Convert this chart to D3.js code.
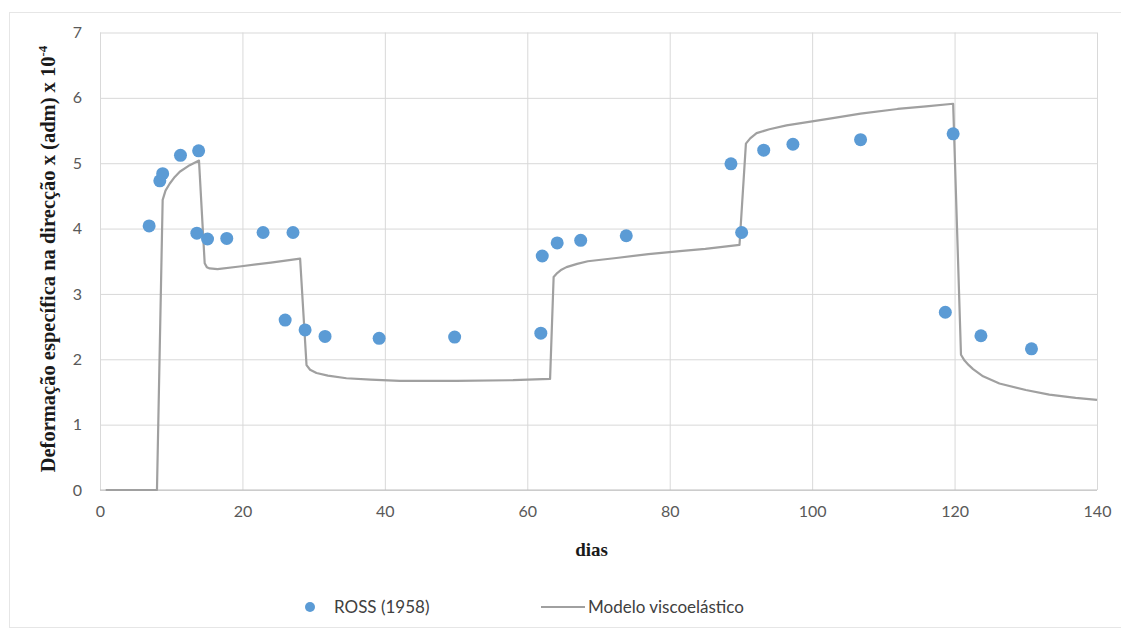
<!DOCTYPE html>
<html>
<head>
<meta charset="utf-8">
<script src="https://d3js.org/d3.v7.min.js"></script>
<style>
  body { margin: 0; background: #fff; }
  .grid line { stroke: #d9d9d9; }
  .grid .domain { stroke: none; }
  .tick text { fill: #595959; font-family: Lato, "Open Sans", sans-serif; font-size: 16px; }
</style>
</head>
<body>
<svg id="chart" width="1121" height="634"></svg>
<script>
// ROSS (1958) measured points
const rossDays = [6.9, 8.4, 8.8, 11.3, 13.85, 13.6, 15.1, 17.8, 22.9, 27.1, 26.0, 28.8, 31.6, 39.2, 49.8,
                  61.9, 62.1, 64.2, 67.5, 73.9, 90.1, 88.6, 93.2, 97.3, 106.8, 119.8, 118.7, 123.7, 130.8];
const rossStrain = [4.04, 4.73, 4.84, 5.12, 5.19, 3.93, 3.84, 3.85, 3.94, 3.94, 2.60, 2.45, 2.35, 2.32, 2.34,
                    2.40, 3.58, 3.78, 3.82, 3.89, 3.94, 4.99, 5.20, 5.29, 5.36, 5.45, 2.72, 2.36, 2.16];

// Modelo viscoelástico curve
const modelDays = [0.8, 8.0, 8.8, 9.2, 9.8, 10.5, 11.2, 12.6, 13.9, 14.7, 15.0, 15.4, 16.5, 19.6, 24, 28.1,
                   29.0, 29.5, 30.4, 32, 34.6, 38, 42.1, 50, 58, 63.2, 63.7, 64.2, 64.8, 65.5, 67, 68.5,
                   72.5, 77, 81.8, 85, 89.8, 90.7, 91.3, 92.2, 94, 96.4, 100, 102.9, 106.8, 112, 116,
                   119.8, 120.9, 121.4, 122.0, 122.6, 124, 126.3, 130, 133.3, 137, 140];
const modelStrain = [0, 0, 4.44, 4.58, 4.69, 4.79, 4.87, 4.97, 5.04, 3.47, 3.41, 3.39, 3.38, 3.42, 3.48, 3.54,
                     1.91, 1.84, 1.79, 1.75, 1.71, 1.69, 1.67, 1.67, 1.68, 1.70, 3.26, 3.32, 3.37, 3.41, 3.46, 3.50,
                     3.55, 3.61, 3.66, 3.69, 3.75, 5.30, 5.38, 5.46, 5.52, 5.58, 5.64, 5.69, 5.76, 5.83, 5.87,
                     5.91, 2.07, 1.98, 1.91, 1.85, 1.74, 1.63, 1.53, 1.46, 1.41, 1.38];

const xTicks = [0, 20, 40, 60, 80, 100, 120, 140];
const yTicks = [0, 1, 2, 3, 4, 5, 6, 7];

const svg = d3.select("#chart");
const margins = { top: 32.5, right: 24, bottom: 144, left: 100 };
const chartWidth = 1097 - margins.left;
const chartHeight = 490 - margins.top;

// outer chart frame
svg.append("rect")
   .attr("x", 9.5).attr("y", 12.5)
   .attr("width", 1130).attr("height", 615)
   .attr("fill", "none").attr("stroke", "#e6e6e6");

const xScale = d3.scaleLinear().domain([0, 140]).range([0, chartWidth]);
const yScale = d3.scaleLinear().domain([0, 7]).range([chartHeight, 0]);

const plot = svg.append("g")
                .attr("transform", `translate(${margins.left},${margins.top})`);

// grid lines
plot.append("g")
    .attr("class", "grid")
    .call(d3.axisLeft(yScale).tickValues(yTicks).tickSize(-chartWidth).tickFormat(""));
plot.append("g")
    .attr("class", "grid")
    .attr("transform", `translate(0,${chartHeight})`)
    .call(d3.axisBottom(xScale).tickValues(xTicks).tickSize(-chartHeight).tickFormat(""));

// axis line at 0
plot.append("line")
    .attr("x1", 0).attr("x2", chartWidth)
    .attr("y1", yScale(0)).attr("y2", yScale(0))
    .attr("stroke", "#bfbfbf");

// tick labels
const leftAxis = plot.append("g")
    .call(d3.axisLeft(yScale).tickValues(yTicks).tickFormat(d3.format("d")).tickSize(0).tickPadding(18));
leftAxis.select(".domain").remove();
const bottomAxis = plot.append("g")
    .attr("transform", `translate(0,${chartHeight})`)
    .call(d3.axisBottom(xScale).tickValues(xTicks).tickSize(0).tickPadding(16));
bottomAxis.select(".domain").remove();

// model line
const line = d3.line()
               .x((d, i) => xScale(modelDays[i]))
               .y(d => yScale(d));
plot.append("path")
    .datum(modelStrain)
    .attr("d", line)
    .attr("fill", "none")
    .attr("stroke", "#a0a0a0")
    .attr("stroke-width", 2.2)
    .attr("stroke-linejoin", "round");

// points
plot.selectAll("circle.ross")
    .data(rossStrain)
    .join("circle")
    .attr("class", "ross")
    .attr("cx", (d, i) => xScale(rossDays[i]))
    .attr("cy", d => yScale(d))
    .attr("r", 6.5)
    .attr("fill", "#5b9bd5");

// axis titles
svg.append("text")
   .attr("transform", "translate(55,259) rotate(-90)")
   .attr("text-anchor", "middle")
   .style("font-family", "'Liberation Serif', 'Times New Roman', serif")
   .style("font-weight", "bold")
   .style("font-size", "20.5px")
   .style("fill", "#1a1a1a")
   .html("Deformação específica na direcção x (adm) x 10<tspan dy='-8' font-size='13px'>-4</tspan>");

svg.append("text")
   .attr("x", margins.left + chartWidth / 2 - 7)
   .attr("y", 556)
   .attr("text-anchor", "middle")
   .style("font-family", "'Liberation Serif', 'Times New Roman', serif")
   .style("font-weight", "bold")
   .style("font-size", "19px")
   .style("fill", "#1a1a1a")
   .text("dias");

// legend
const legend = svg.append("g").attr("transform", "translate(0,607)");
legend.append("circle").attr("cx", 310).attr("cy", 0).attr("r", 5).attr("fill", "#5b9bd5");
legend.append("text").attr("x", 334).attr("y", 6)
      .style("font-family", "Lato, 'Open Sans', sans-serif").style("font-size", "17px").style("fill", "#404040")
      .text("ROSS (1958)");
legend.append("line").attr("x1", 541).attr("x2", 585).attr("y1", 0).attr("y2", 0)
      .attr("stroke", "#a0a0a0").attr("stroke-width", 2.2);
legend.append("text").attr("x", 588).attr("y", 6)
      .style("font-family", "Lato, 'Open Sans', sans-serif").style("font-size", "17px").style("fill", "#404040")
      .text("Modelo viscoelástico");
</script>
</body>
</html>
